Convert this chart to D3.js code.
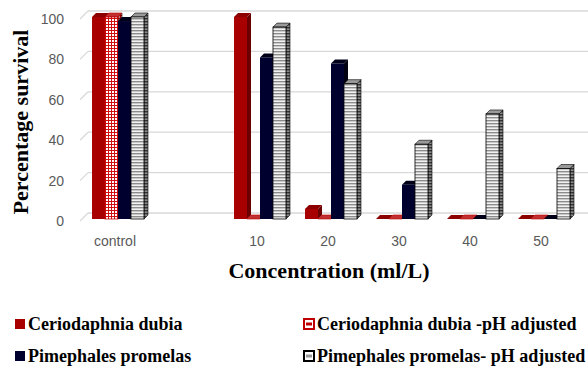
<!DOCTYPE html>
<html><head><meta charset="utf-8">
<script src="https://cdn.jsdelivr.net/npm/d3@7/dist/d3.min.js"></script>
<style>body{margin:0;background:#fff;overflow:hidden}svg{display:block}
.serif{font-family:"Liberation Serif","Times New Roman",serif;font-weight:bold}
.sans{font-family:"Liberation Sans",Arial,sans-serif}
</style>
</head><body>
<script>
const categories = ["control", "", "10", "20", "30", "40", "50"];
const seriesNames = ["Ceriodaphnia dubia", "Ceriodaphnia dubia -pH adjusted", "Pimephales promelas", "Pimephales promelas- pH adjusted"];
const cdubia      = [100, null, 100, 5, 0, 0, 0];
const cdubiaPH    = [100, null, 0, 0, 0, 0, 0];
const ppromelas   = [98, null, 80, 77, 17, 0, 0];
const ppromelasPH = [100, null, 95, 67, 37, 52, 25];
const yTicks = [0, 20, 40, 60, 80, 100];

const W = 588, H = 367;
const svg = d3.select("body").append("svg").attr("width", W).attr("height", H);
const defs = svg.append("defs");

// patterns
const pc = defs.append("pattern").attr("id","chk").attr("patternUnits","userSpaceOnUse").attr("width",3).attr("height",3);
pc.append("rect").attr("width",3).attr("height",3).attr("fill","#fff");
pc.append("rect").attr("width",3).attr("height",1).attr("fill","#d01010");
pc.append("rect").attr("width",1).attr("height",3).attr("fill","#d01010");
const pcd = defs.append("pattern").attr("id","chkd").attr("patternUnits","userSpaceOnUse").attr("width",3).attr("height",3);
pcd.append("rect").attr("width",3).attr("height",3).attr("fill","#c08080");
pcd.append("rect").attr("width",3).attr("height",1).attr("fill","#900000");
pcd.append("rect").attr("width",1).attr("height",3).attr("fill","#900000");
const ps = defs.append("pattern").attr("id","str").attr("patternUnits","userSpaceOnUse").attr("width",4).attr("height",3);
ps.append("rect").attr("width",4).attr("height",3).attr("fill","#f2f2f2");
ps.append("rect").attr("width",4).attr("height",1.4).attr("fill","#8c8c8c");
const psd = defs.append("pattern").attr("id","strd").attr("patternUnits","userSpaceOnUse").attr("width",4).attr("height",3);
psd.append("rect").attr("width",4).attr("height",3).attr("fill","#8a8a8a");
psd.append("rect").attr("width",4).attr("height",1.4).attr("fill","#333");

const styles = [
  {front:"#a80000", side:"#6a0000", top:"#8c0000", stroke:"none"},
  {front:"url(#chk)", side:"url(#chkd)", top:"#c03030", stroke:"#c00000"},
  {front:"#00002e", side:"#000010", top:"#000018", stroke:"none"},
  {front:"url(#str)", side:"url(#strd)", top:"#9a9a9a", stroke:"#000"}
];
const data = [cdubia, cdubiaPH, ppromelas, ppromelasPH];

const x0 = d3.scaleBand().domain(categories.map((c,i)=>i)).range([82.5, 579.5]).paddingInner(0.268).paddingOuter(0.134);
const x1 = d3.scaleBand().domain(d3.range(4)).range([0, x0.bandwidth()]);
const y = d3.scaleLinear().domain([0,100]).range([219, 17]);
const wallDx = 8, wallDy = -6;
const dx = 4, dy = -4;

// gridlines (back wall)
const g = svg.append("g");
yTicks.forEach(t => {
  g.append("line").attr("x1", 80).attr("y1", y(t)+2).attr("x2", 80+wallDx).attr("y2", y(t)+wallDy)
    .attr("stroke","#d9d9d9").attr("stroke-width",1.3);
  g.append("line").attr("x1", 80+wallDx).attr("y1", y(t)+wallDy).attr("x2", W).attr("y2", y(t)+wallDy)
    .attr("stroke","#d9d9d9").attr("stroke-width",1.3);
});
// y tick labels
yTicks.forEach(t => {
  svg.append("text").attr("class","sans").attr("x", 64).attr("y", y(t)+2).attr("dy","0.35em").attr("text-anchor","end")
    .attr("font-size",14).attr("fill","#595959").text(t);
});

// bars
const bars = svg.append("g");
categories.forEach((c, ci) => {
  data.forEach((series, si) => {
    const v = series[ci];
    if (v === null || v === undefined) return;
    const st = styles[si];
    const xl = x0(ci) + x1(si), w = x1.bandwidth();
    const yt = y(v), yb = y(0);
    bars.append("path").attr("d", `M${xl+w},${yt}L${xl+w+dx},${yt+dy}L${xl+w+dx},${yb+dy}L${xl+w},${yb}Z`)
      .attr("fill", st.side).attr("stroke", st.stroke === "none" ? "none" : "#000").attr("stroke-width",0.6);
    bars.append("path").attr("d", `M${xl},${yt}L${xl+dx},${yt+dy}L${xl+w+dx},${yt+dy}L${xl+w},${yt}Z`)
      .attr("fill", st.top).attr("stroke", st.stroke === "none" ? "none" : st.stroke).attr("stroke-width",0.6);
    if (v > 0) bars.append("rect").attr("x", xl).attr("y", yt).attr("width", w).attr("height", yb-yt)
      .attr("fill", st.front).attr("stroke", st.stroke).attr("stroke-width", st.stroke==="none"?0:0.8);
  });
});

// x tick labels
categories.forEach((c, ci) => {
  svg.append("text").attr("class","sans").attr("x", x0(ci) + x0.bandwidth()/2 - 3).attr("y", 246).attr("text-anchor","middle")
    .attr("font-size",14).attr("fill","#595959").text(c);
});

// axis titles
svg.append("text").attr("class","serif").attr("transform","translate(28,122) rotate(-90)").attr("text-anchor","middle")
  .attr("font-size",22).attr("fill","#000").text("Percentage survival");
svg.append("text").attr("class","serif").attr("x", 329).attr("y", 278).attr("text-anchor","middle")
  .attr("font-size",22).attr("fill","#000").text("Concentration (ml/L)");

// legend
const legPos = [[15,330],[304,330],[15,362],[304,362]];
const legFill = ["#a80000","#fff","#00002e","#fff"];
const legStroke = ["none","#c00000","none","#000"];
const legInner = [null,"#c00000",null,"#9a9a9a"];
seriesNames.forEach((n, i) => {
  const [lx, ly] = legPos[i];
  svg.append("rect").attr("x", lx).attr("y", ly-11).attr("width", 10).attr("height", 10)
    .attr("fill", legFill[i]).attr("stroke", legStroke[i]).attr("stroke-width", legStroke[i]==="none"?0:2);
  if (legInner[i]) svg.append("rect").attr("x", lx+2).attr("y", ly-7.5).attr("width", 6).attr("height", 3)
    .attr("fill", legInner[i]);
  svg.append("text").attr("class","serif").attr("x", lx+13).attr("y", ly)
    .attr("font-size",18).attr("fill","#000").text(n);
});
</script>
</body></html>
